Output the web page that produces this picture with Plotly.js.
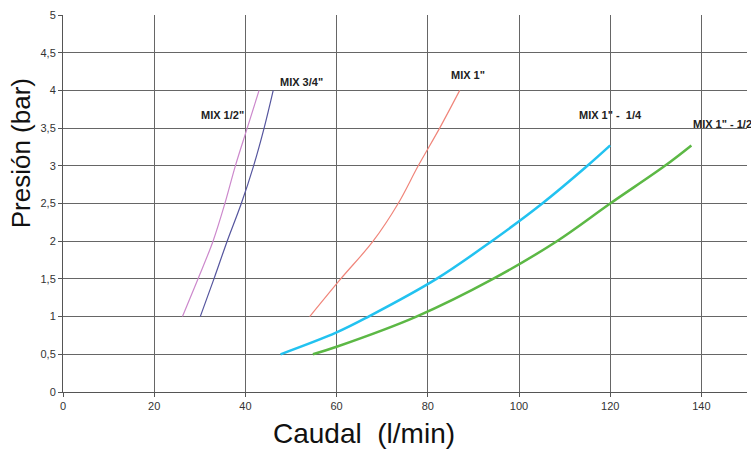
<!DOCTYPE html>
<html>
<head>
<meta charset="utf-8">
<script src="https://cdn.plot.ly/plotly-3.0.1.min.js"></script>
<style>html,body{margin:0;padding:0;background:#fff;}#chart{width:751px;height:450px;}</style>
</head>
<body>
<div id="chart"></div>
<script>
// MIX 1/2"
const mix12_x = [26.2, 29.6, 32.9, 35.5, 37.8, 40.4, 43.0];
const mix12_y = [1, 1.5, 2, 2.5, 3, 3.5, 4];
// MIX 3/4"
const mix34_x = [30.1, 33.1, 36.0, 39.1, 41.8, 44.1, 46.1];
const mix34_y = [1, 1.5, 2, 2.5, 3, 3.5, 4];
// MIX 1"
const mix1_x = [54.1, 60.9, 68.0, 73.5, 77.9, 82.6, 87.0];
const mix1_y = [1, 1.5, 2, 2.5, 3, 3.5, 4];
// MIX 1" - 1/4
const mix114_x = [47.7, 60.0, 67.0, 81.9, 94.0, 105.1, 115.0, 120.0];
const mix114_y = [0.5, 0.79, 1, 1.5, 2, 2.5, 3, 3.27];
// MIX 1" - 1/2
const mix112_x = [54.8, 60.0, 77.5, 94.3, 108.3, 120.0, 132.0, 137.8];
const mix112_y = [0.5, 0.6, 1, 1.5, 2, 2.5, 3, 3.27];

const labels = ['MIX 1/2"', 'MIX 3/4"', 'MIX 1"', 'MIX 1" -  1/4', 'MIX 1" - 1/2'];
const labelX = [34.9, 52.2, 88.9, 120.1, 137.8];
const labelY = [3.68, 4.11, 4.21, 3.68, 3.56];

const xTicks = [0, 20, 40, 60, 80, 100, 120, 140];
const yTicks = [0, 0.5, 1, 1.5, 2, 2.5, 3, 3.5, 4, 4.5, 5];
const yTickText = ['0', '0,5', '1', '1,5', '2', '2,5', '3', '3,5', '4', '4,5', '5'];

const xTitle = 'Caudal\u00a0\u00a0(l/min)';
const yTitle = 'Presión (bar)';

const mk = (x, y, color, w) => ({x: x, y: y, type: 'scatter', mode: 'lines',
  line: {color: color, width: w, shape: 'spline', smoothing: 1}, hoverinfo: 'skip'});

const data = [
  mk(mix12_x, mix12_y, '#cc88cc', 1.2),
  mk(mix34_x, mix34_y, '#55559e', 1.2),
  mk(mix1_x, mix1_y, '#f0857a', 1.2),
  mk(mix114_x, mix114_y, '#22c2f0', 2.5),
  mk(mix112_x, mix112_y, '#5cb845', 2.5)
];

const FONT = 'Liberation Sans, Arial, sans-serif';
const annotations = labels.map((t, i) => ({
  x: labelX[i], y: labelY[i], xref: 'x', yref: 'y', text: '<b>' + t + '</b>',
  showarrow: false, xanchor: i === 4 ? 'left' : 'center', yanchor: 'middle',
  font: {family: FONT, size: 11, color: '#222'}
}));
annotations.push({
  xref: 'paper', yref: 'paper', x: 0.44, y: -0.11, text: xTitle, showarrow: false,
  xanchor: 'center', yanchor: 'middle', font: {family: FONT, size: 28, color: '#111'}
});
annotations.push({
  xref: 'paper', yref: 'paper', x: -0.061, y: 0.634, text: yTitle, showarrow: false,
  textangle: -90, xanchor: 'center', yanchor: 'middle', font: {family: FONT, size: 26, color: '#111'}
});

const layout = {
  width: 751, height: 450,
  margin: {l: 63, r: 4, t: 15, b: 58},
  paper_bgcolor: '#fff', plot_bgcolor: '#fff',
  showlegend: false,
  font: {family: FONT},
  xaxis: {
    range: [0, 150], tickvals: xTicks, ticktext: xTicks.map(String),
    showgrid: true, gridcolor: '#666', gridwidth: 1, zeroline: false,
    showline: true, linecolor: '#555', linewidth: 1,
    ticks: 'outside', ticklen: 4, tickcolor: '#555',
    tickfont: {size: 11, color: '#333'}
  },
  yaxis: {
    range: [0, 5], tickvals: yTicks, ticktext: yTickText,
    showgrid: true, gridcolor: '#666', gridwidth: 1, zeroline: false,
    showline: true, linecolor: '#555', linewidth: 1,
    ticks: 'outside', ticklen: 4, tickcolor: '#555',
    tickfont: {size: 11, color: '#333'}
  },
  annotations: annotations
};

Plotly.newPlot('chart', data, layout, {staticPlot: true, displayModeBar: false});
</script>
</body>
</html>
